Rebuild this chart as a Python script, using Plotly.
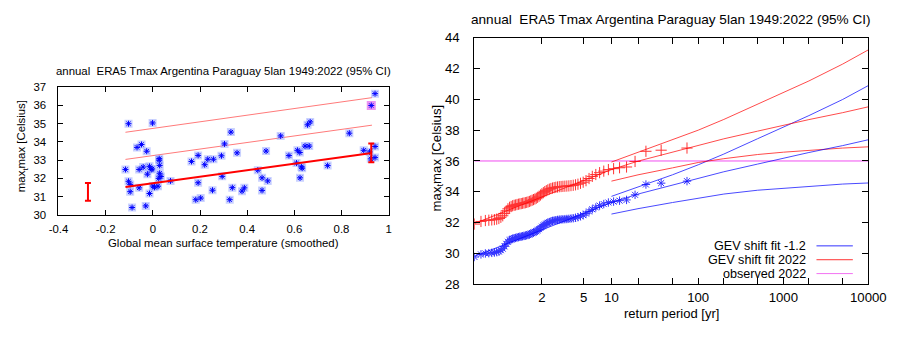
import numpy as np
import plotly.graph_objects as go

# ---------------- data: left panel (scatter vs GMST) ----------------
gmst = [-0.116, -0.103, -0.103, -0.096, -0.096, -0.088, -0.067, -0.058, -0.058, -0.048,
        -0.041, -0.030, -0.026, -0.023, -0.014, -0.014, -0.007, -0.003, -0.001, 0.000,
        0.007, 0.022, 0.025, 0.027, 0.027, 0.029, 0.029, 0.034, 0.075,
        0.164, 0.192, 0.192, 0.182, 0.203, 0.220, 0.233, 0.257, 0.253, 0.291,
        0.294, 0.304, 0.331, 0.326, 0.337, 0.357, 0.378, 0.388, 0.445, 0.463,
        0.463, 0.480, 0.487, 0.542, 0.577,
        0.609, 0.613, 0.623, 0.624, 0.630, 0.633, 0.645, 0.656, 0.663, 0.667,
        0.741, 0.833,
        0.894, 0.919, 0.924, 0.942, 0.942, 0.942]
tmax = [32.49, 35.00, 31.84, 31.67, 31.27, 30.40, 33.70, 32.49, 31.48, 33.86,
        32.62, 30.49, 33.49, 32.23, 32.66, 31.17, 32.49, 32.52, 35.04, 31.58,
        31.51, 31.57, 32.00, 33.08, 33.00, 32.71, 32.28, 32.10, 31.86,
        32.93, 33.26, 31.76, 30.83, 30.92, 32.75, 33.05, 33.05, 31.35, 33.24,
        32.11, 33.89, 34.54, 30.83, 31.49, 33.40, 31.30, 31.48, 32.45, 32.03,
        31.34, 33.50, 31.86, 34.33, 33.25,
        32.84, 33.54, 33.42, 32.03, 32.63, 32.56, 33.77, 34.94, 33.77, 35.10,
        32.70, 34.48,
        33.54, 33.45, 33.07, 33.75, 33.14, 36.65]
event_gmst = 0.926
event_value = 36.0

fit_x = [-0.116, 0.929]
fit_mu = [31.53, 33.39]
fit_mid = [33.04, 34.92]
fit_top = [34.53, 36.43]

err_x = [-0.275, 0.926]
err_c = [31.24, 33.39]
err_plus = [0.50, 0.52]
err_minus = [0.47, 0.50]

left_xticks = [-0.4, -0.2, 0, 0.2, 0.4, 0.6, 0.8, 1]
left_xlabels = ["-0.4", "-0.2", "0", "0.2", "0.4", "0.6", "0.8", "1"]
left_yticks = [30, 31, 32, 33, 34, 35, 36, 37]

# ---------------- data: right panel (return periods) ----------------
n_obs = 73
blue_sorted = [29.76, 29.93, 29.99, 30.01, 30.03, 30.05, 30.08, 30.12, 30.20, 30.30,
               30.45, 30.62, 30.75, 30.85, 30.90, 30.95, 30.98, 31.00, 31.03, 31.05,
               31.07, 31.09, 31.11, 31.13, 31.15, 31.17, 31.20, 31.23, 31.27, 31.31,
               31.35, 31.39, 31.44, 31.50, 31.57, 31.65, 31.73, 31.80, 31.87, 31.93,
               31.98, 32.03, 32.07, 32.10, 32.13, 32.15, 32.17, 32.19, 32.20, 32.21,
               32.22, 32.23, 32.24, 32.26, 32.28, 32.31, 32.35, 32.41, 32.48, 32.58,
               32.72, 32.86, 32.98, 33.10, 33.20, 33.30, 33.36, 33.42, 33.47, 33.80,
               34.47, 34.56, 34.69]
red_sorted = [31.90, 32.07, 32.13, 32.15, 32.17, 32.19, 32.22, 32.26, 32.34, 32.44,
              32.59, 32.76, 32.89, 32.99, 33.04, 33.09, 33.12, 33.14, 33.17, 33.19,
              33.21, 33.23, 33.25, 33.27, 33.29, 33.31, 33.34, 33.37, 33.41, 33.45,
              33.49, 33.53, 33.58, 33.64, 33.71, 33.79, 33.87, 33.94, 34.01, 34.07,
              34.12, 34.17, 34.21, 34.24, 34.27, 34.29, 34.31, 34.33, 34.34, 34.35,
              34.36, 34.37, 34.38, 34.40, 34.42, 34.45, 34.49, 34.55, 34.62, 34.72,
              34.86, 35.00, 35.12, 35.24, 35.34, 35.44, 35.50, 35.56, 35.61, 35.97,
              36.63, 36.70, 36.84]

T_central = [1.0137, 1.1, 1.5, 2, 3, 5, 10, 20, 50, 100, 200, 500, 1000, 2000, 5000, 10000]
blue_central = [29.80, 30.35, 31.10, 31.55, 32.05, 32.60, 33.30, 33.85, 34.45, 34.88,
                35.30, 35.80, 36.18, 36.55, 37.00, 37.38]
red_central = [31.94, 32.49, 33.24, 33.69, 34.19, 34.74, 35.44, 35.99, 36.59, 37.02,
               37.44, 37.94, 38.32, 38.69, 39.14, 39.52]

T_ci = [10, 20, 50, 100, 200, 500, 1000, 2000, 5000, 10000]
blue_upper = [33.70, 34.30, 35.10, 35.75, 36.45, 37.45, 38.20, 38.95, 40.00, 40.90]
blue_lower = [32.55, 32.90, 33.30, 33.60, 33.85, 34.10, 34.22, 34.35, 34.50, 34.57]
red_upper = [35.93, 36.55, 37.35, 38.00, 38.70, 39.70, 40.45, 41.20, 42.30, 43.22]
red_lower = [34.69, 35.10, 35.55, 35.90, 36.15, 36.42, 36.57, 36.70, 36.84, 36.92]
observed_2022 = 36.0

right_xtick_T = [2, 5, 10, 100, 1000, 10000]
right_xlabels = ["2", "5", "10", "100", "1000", "10000"]
right_minor_T = [20, 50, 200, 500, 2000, 5000]
right_yticks = [28, 30, 32, 34, 36, 38, 40, 42, 44]

title_text = "annual\u00a0 ERA5 Tmax Argentina Paraguay 5lan 1949:2022 (95% CI)"
ylab = "max<sub>t</sub>max [Celsius]"


def gumbel(T):
    """Gumbel reduced variate used as the return-period axis scale."""
    T = np.asarray(T, dtype=float)
    return -np.log(-np.log(1.0 - 1.0 / T))


ranks = np.arange(1, n_obs + 1)
T_points = (n_obs + 1) / (n_obs + 1 - ranks)

W, H = 913, 337
FONT = "Liberation Sans, Arial, Helvetica, sans-serif"
fsL, fsR = 11.4, 13.2

BLUE = "#0000ff"
RED = "#ff0000"
LRED = "#ff7a7a"
MAG = "#f050f0"

fig = go.Figure()

# ---- left panel ----
fig.add_trace(go.Scatter(x=fit_x, y=fit_top, mode="lines", line=dict(color=LRED, width=1),
                         xaxis="x", yaxis="y", showlegend=False))
fig.add_trace(go.Scatter(x=fit_x, y=fit_mid, mode="lines", line=dict(color=LRED, width=1),
                         xaxis="x", yaxis="y", showlegend=False))
fig.add_trace(go.Scatter(x=[event_gmst], y=[event_value], mode="markers",
                         marker=dict(symbol="square", size=9, color="rgba(230,120,240,0.8)",
                                     line=dict(width=0)),
                         xaxis="x", yaxis="y", showlegend=False))
fig.add_trace(go.Scatter(x=gmst, y=tmax, mode="markers",
                         marker=dict(symbol="square", size=8, color="rgba(150,165,255,0.5)",
                                     line=dict(width=0)),
                         xaxis="x", yaxis="y", showlegend=False))
fig.add_trace(go.Scatter(x=gmst + [event_gmst], y=tmax + [event_value], mode="markers",
                         marker=dict(symbol="asterisk", size=5, color=BLUE,
                                     line=dict(color=BLUE, width=1)),
                         xaxis="x", yaxis="y", showlegend=False))
fig.add_trace(go.Scatter(x=fit_x, y=fit_mu, mode="lines", line=dict(color=RED, width=2),
                         xaxis="x", yaxis="y", showlegend=False))
fig.add_trace(go.Scatter(x=err_x, y=err_c, mode="markers",
                         marker=dict(size=1, color=RED),
                         error_y=dict(type="data", symmetric=False, array=err_plus,
                                      arrayminus=err_minus, color=RED, thickness=2, width=3),
                         xaxis="x", yaxis="y", showlegend=False))

# ---- right panel ----
gx_lo = float(gumbel(T_points[0])) - 0.005
gx_hi = float(gumbel(10000))

fig.add_trace(go.Scatter(x=[gx_lo, gx_hi], y=[observed_2022, observed_2022], mode="lines",
                         line=dict(color=MAG, width=1), xaxis="x2", yaxis="y2", showlegend=False))
for arr, col in [(blue_upper, BLUE), (blue_lower, BLUE), (red_upper, RED), (red_lower, RED)]:
    fig.add_trace(go.Scatter(x=gumbel(T_ci), y=arr, mode="lines",
                             line=dict(color=col, width=1), opacity=0.7,
                             xaxis="x2", yaxis="y2", showlegend=False))
fig.add_trace(go.Scatter(x=gumbel(T_central), y=blue_central, mode="lines",
                         line=dict(color=BLUE, width=1), opacity=0.7,
                         xaxis="x2", yaxis="y2", showlegend=False))
fig.add_trace(go.Scatter(x=gumbel(T_central), y=red_central, mode="lines",
                         line=dict(color=RED, width=1), opacity=0.7,
                         xaxis="x2", yaxis="y2", showlegend=False))
fig.add_trace(go.Scatter(x=gumbel(T_points), y=blue_sorted, mode="markers",
                         marker=dict(symbol="asterisk", size=7, color=BLUE,
                                     line=dict(color=BLUE, width=1)),
                         opacity=0.8, xaxis="x2", yaxis="y2", showlegend=False))
fig.add_trace(go.Scatter(x=gumbel(T_points), y=red_sorted, mode="markers",
                         marker=dict(symbol="cross-thin", size=8, color=RED,
                                     line=dict(color=RED, width=1)),
                         opacity=0.8, xaxis="x2", yaxis="y2", showlegend=False))

axis_common = dict(showline=True, linecolor="black", linewidth=1, mirror="ticks",
                   ticks="inside", tickcolor="black", showgrid=False, zeroline=False)

fig.update_layout(
    width=W, height=H, autosize=False,
    margin=dict(l=0, r=0, t=0, b=0),
    paper_bgcolor="white", plot_bgcolor="white",
    font=dict(family=FONT, color="black"),
    xaxis=dict(domain=[50 / W, 390.7 / W], range=[-0.4, 1], anchor="y",
               tickvals=left_xticks, ticktext=left_xlabels, ticklen=5,
               ticklabelstandoff=4, tickfont=dict(size=fsL), **axis_common),
    yaxis=dict(domain=[1 - 217.5 / H, 1 - 84 / H], range=[30, 37], anchor="x",
               tickvals=left_yticks, ticklen=5, ticklabelstandoff=9,
               tickfont=dict(size=fsL), **axis_common),
    xaxis2=dict(domain=[479 / W, 885.5 / W], range=[gx_lo, gx_hi], anchor="y2",
                tickvals=gumbel(right_xtick_T), ticktext=right_xlabels, ticklen=6,
                ticklabelstandoff=1, tickfont=dict(size=fsR),
                minor=dict(tickmode="array", tickvals=gumbel(right_minor_T), ticks="inside",
                           ticklen=6, tickcolor="black", showgrid=False),
                **axis_common),
    yaxis2=dict(domain=[1 - 290 / H, 1 - 32.3 / H], range=[28, 44], anchor="x2",
                tickvals=right_yticks, ticklen=6, ticklabelstandoff=11,
                tickfont=dict(size=fsR), **axis_common),
)

ann = [
    dict(text=title_text, x=220 / W, y=1 - 66.7 / H, font=dict(size=fsL)),
    dict(text="Global mean surface temperature (smoothed)", x=220 / W, y=1 - 246.7 / H,
         font=dict(size=fsL)),
    dict(text=ylab, x=12 / W, y=1 - 146 / H, textangle=-90, font=dict(size=fsL)),
    dict(text=title_text, x=682 / W, y=1 - 12.7 / H, font=dict(size=13.6)),
    dict(text="return period [yr]", x=682 / W, y=1 - 321 / H, font=dict(size=13)),
    dict(text=ylab, x=441 / W, y=1 - 158 / H, textangle=-90, font=dict(size=fsR)),
]
annotations = []
for a in ann:
    a.update(xref="paper", yref="paper", showarrow=False, xanchor="center", yanchor="middle",
             borderpad=0)
    annotations.append(a)

# legend (gnuplot style: right-aligned text, line sample on the right)
legend_items = [("GEV shift fit -1.2", BLUE), ("GEV shift fit 2022", RED), ("observed 2022", MAG)]
legend_y = [250.0, 264.5, 279.0]
shapes = []
for (lab, col), ly in zip(legend_items, legend_y):
    annotations.append(dict(text=lab, x=822 / W, y=1 - ly / H, xref="paper", yref="paper",
                            showarrow=False, xanchor="right", yanchor="middle",
                            borderpad=0, font=dict(size=12.6)))
    shapes.append(dict(type="line", xref="paper", yref="paper", x0=832 / W, x1=869.5 / W,
                       y0=1 - ly / H, y1=1 - ly / H, line=dict(color=col, width=1),
                       opacity=0.8))

fig.update_layout(annotations=annotations, shapes=shapes)

fig.write_html("out.html")
